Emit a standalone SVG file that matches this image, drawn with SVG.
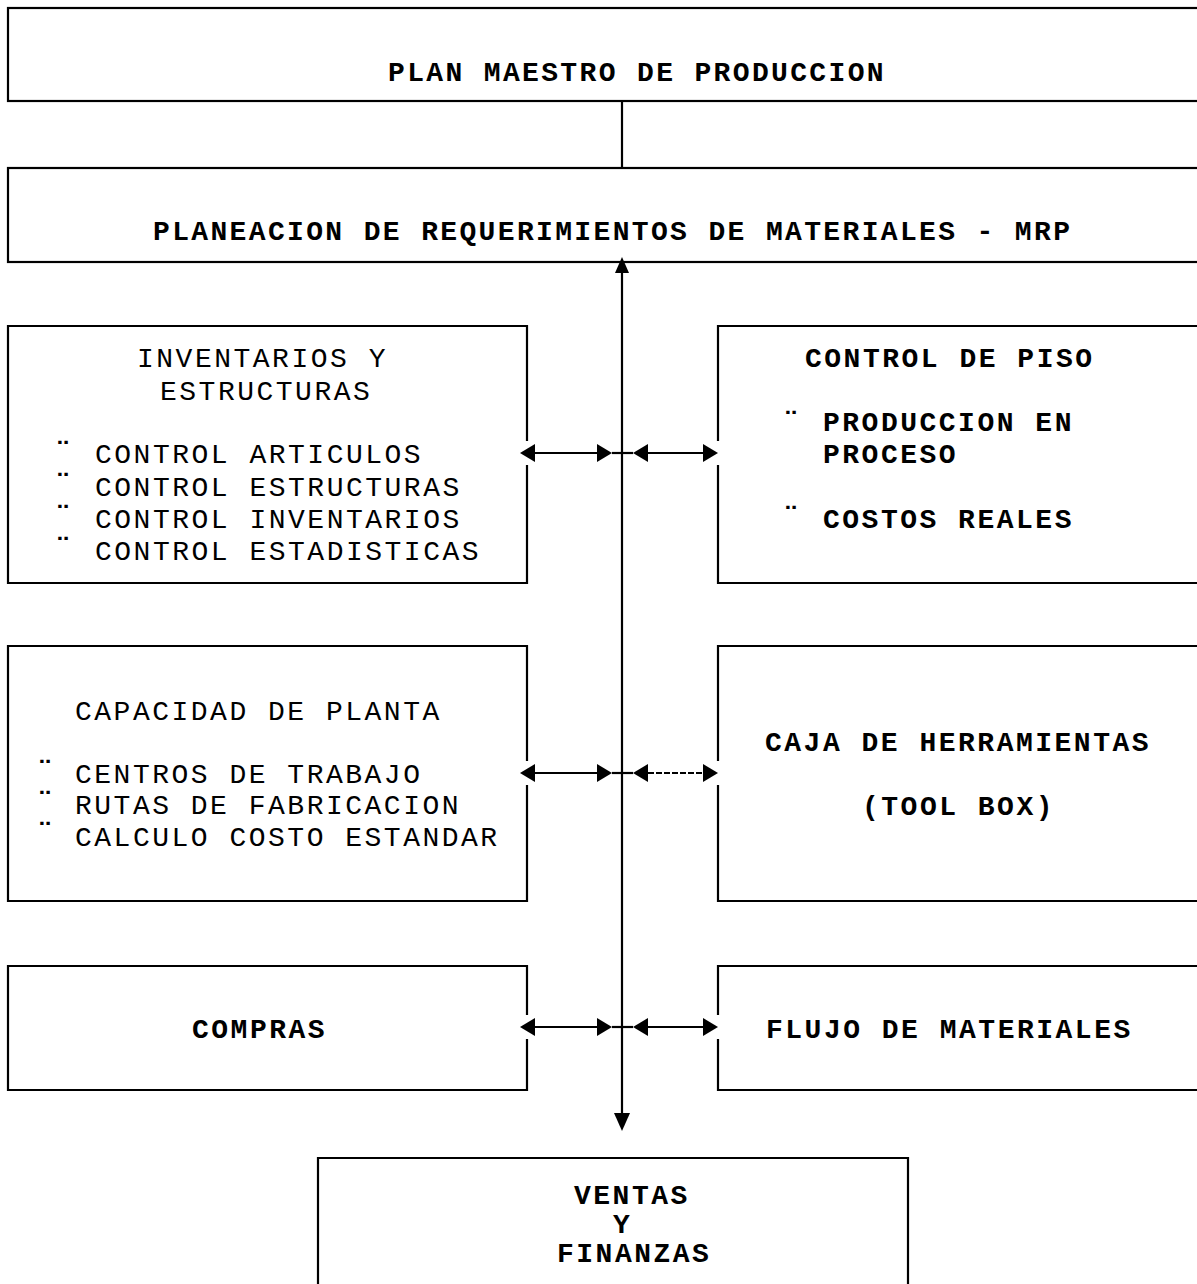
<svg xmlns="http://www.w3.org/2000/svg" width="1197" height="1284" viewBox="0 0 1197 1284">
<style>
.bx{fill:none;stroke:#000;stroke-width:2.2}
.ln{stroke:#000;stroke-width:2.2;fill:none}
.ah{fill:#000}
text{font-family:"Liberation Mono","DejaVu Sans Mono",monospace;font-size:28px;letter-spacing:2.5px;fill:#000}
.b{font-weight:bold}
.h{font-weight:bold;letter-spacing:2.35px}
.d{font-weight:bold;font-size:30px}
</style>
<rect width="1197" height="1284" fill="#fff"/>
<g id="plan-maestro">
<rect class="bx" x="8" y="8" width="1200" height="93"/>
<text class="h" x="388" y="81">PLAN MAESTRO DE PRODUCCION</text>
</g>
<g id="mrp">
<rect class="bx" x="8" y="168" width="1200" height="94"/>
<text class="h" x="153" y="240">PLANEACION DE REQUERIMIENTOS DE MATERIALES - MRP</text>
</g>
<g id="inventarios">
<path class="bx" d="M527 441V326H8V583H527V465"/>
<text x="137" y="367">INVENTARIOS Y</text>
<text x="160" y="400">ESTRUCTURAS</text>
<text class="d" x="54" y="462">¨</text><text x="95" y="463">CONTROL ARTICULOS</text>
<text class="d" x="54" y="494">¨</text><text x="95" y="496">CONTROL ESTRUCTURAS</text>
<text class="d" x="54" y="526">¨</text><text x="95" y="528">CONTROL INVENTARIOS</text>
<text class="d" x="54" y="558">¨</text><text x="95" y="560">CONTROL ESTADISTICAS</text>
</g>
<g id="control-piso">
<path class="bx" d="M718 441V326H1210M1210 583H718V465"/>
<text class="b" x="805" y="367">CONTROL DE PISO</text>
<text class="d" x="782" y="432">¨</text><text class="b" x="823" y="431">PRODUCCION EN</text>
<text class="b" x="823" y="463">PROCESO</text>
<text class="d" x="782" y="527">¨</text><text class="b" x="823" y="528">COSTOS REALES</text>
</g>
<g id="capacidad">
<path class="bx" d="M527 761V646H8V901H527V785"/>
<text x="75" y="720">CAPACIDAD DE PLANTA</text>
<text class="d" x="36" y="781">¨</text><text x="75" y="783">CENTROS DE TRABAJO</text>
<text class="d" x="36" y="812">¨</text><text x="75" y="814">RUTAS DE FABRICACION</text>
<text class="d" x="36" y="843">¨</text><text x="75" y="846">CALCULO COSTO ESTANDAR</text>
</g>
<g id="caja-herramientas">
<path class="bx" d="M718 761V646H1210M1210 901H718V785"/>
<text class="b" x="765" y="751">CAJA DE HERRAMIENTAS</text>
<text class="b" x="862" y="815">(TOOL BOX)</text>
</g>
<g id="compras">
<path class="bx" d="M527 1015V966H8V1090H527V1039"/>
<text class="b" x="192" y="1038">COMPRAS</text>
</g>
<g id="flujo">
<path class="bx" d="M718 1015V966H1210M1210 1090H718V1039"/>
<text class="b" x="766" y="1038">FLUJO DE MATERIALES</text>
</g>
<g id="ventas">
<path class="bx" d="M318 1290V1158H908V1290"/>
<text class="b" x="574" y="1204">VENTAS</text>
<text class="b" x="613" y="1233">Y</text>
<text class="b" x="557" y="1262">FINANZAS</text>
</g>
<g id="connectors">
<line class="ln" x1="622" y1="101" x2="622" y2="168"/>
<line class="ln" x1="622" y1="272" x2="622" y2="1114"/>
<polygon class="ah" points="622,257 615,273 629,273"/>
<polygon class="ah" points="622,1131 614,1113 630,1113"/>
<g id="row1">
<polygon class="ah" points="520,453 535,444 535,462"/>
<line class="ln" x1="535" y1="453" x2="598" y2="453"/>
<polygon class="ah" points="597,444 612,453 597,462"/>
<line class="ln" x1="612" y1="453" x2="633" y2="453"/>
<polygon class="ah" points="633,453 648,444 648,462"/>
<line class="ln" x1="648" y1="453" x2="704" y2="453"/>
<polygon class="ah" points="703,444 718,453 703,462"/>
</g>
<g id="row2">
<polygon class="ah" points="520,773 535,764 535,782"/>
<line class="ln" x1="535" y1="773" x2="598" y2="773"/>
<polygon class="ah" points="597,764 612,773 597,782"/>
<line class="ln" x1="612" y1="773" x2="633" y2="773"/>
<polygon class="ah" points="633,773 648,764 648,782"/>
<line class="ln" x1="648" y1="773" x2="704" y2="773" stroke-dasharray="6 2"/>
<polygon class="ah" points="703,764 718,773 703,782"/>
</g>
<g id="row3">
<polygon class="ah" points="520,1027 535,1018 535,1036"/>
<line class="ln" x1="535" y1="1027" x2="598" y2="1027"/>
<polygon class="ah" points="597,1018 612,1027 597,1036"/>
<line class="ln" x1="612" y1="1027" x2="633" y2="1027"/>
<polygon class="ah" points="633,1027 648,1018 648,1036"/>
<line class="ln" x1="648" y1="1027" x2="704" y2="1027"/>
<polygon class="ah" points="703,1018 718,1027 703,1036"/>
</g>
</g>
</svg>
